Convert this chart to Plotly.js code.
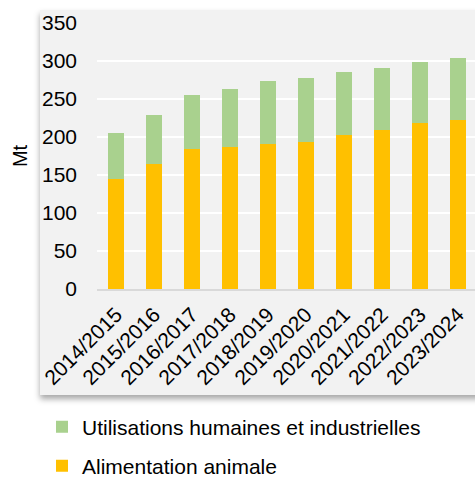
<!DOCTYPE html>
<html>
<head>
<meta charset="utf-8">
<script src="https://cdn.plot.ly/plotly-3.0.1.min.js"></script>
<style>
  html, body { margin: 0; padding: 0; background: #ffffff; overflow: hidden; }
  #wrap { position: relative; width: 475px; height: 477px; }
  #panel { position: absolute; left: 40px; top: 10px; width: 445px; height: 385px;
           background: #f2f2f2; box-shadow: 0 4px 6px rgba(0,0,0,0.35); }
  #chart { position: absolute; left: 0; top: 0; width: 475px; height: 477px; }
</style>
</head>
<body>
<div id="wrap">
  <div id="panel"></div>
  <div id="chart"></div>
</div>
<script>
const categories = ["2014/2015","2015/2016","2016/2017","2017/2018","2018/2019",
                    "2019/2020","2020/2021","2021/2022","2022/2023","2023/2024"];
const alimentationAnimale = [145, 165, 184, 187, 191, 193, 203, 209, 218, 223];
const utilisationsHumaines = [60, 64, 71, 76, 83, 85, 83, 82, 81, 81];
const yTicks = [0, 50, 100, 150, 200, 250, 300, 350];

const FONT = "Liberation Sans, Arial, sans-serif";

const traces = [
  {
    type: "bar", name: "Alimentation animale", x: categories, y: alimentationAnimale,
    marker: { color: "#ffc000" }, legend: "legend2", hoverinfo: "skip"
  },
  {
    type: "bar", name: "Utilisations humaines et industrielles", x: categories, y: utilisationsHumaines,
    marker: { color: "#a9d18e" }, legend: "legend", hoverinfo: "skip"
  }
];

const legendBase = {
  orientation: "h", xanchor: "left", yanchor: "middle",
  xref: "container", yref: "container",
  font: { family: FONT, size: 21, color: "#000000" },
  bgcolor: "rgba(0,0,0,0)"
};

const layout = {
  width: 475, height: 477,
  margin: { l: 97, r: 0, t: 23, b: 188 },
  paper_bgcolor: "rgba(0,0,0,0)",
  plot_bgcolor: "#f2f2f2",
  barmode: "stack",
  bargap: 0.6,
  font: { family: FONT, color: "#000000", size: 20 },
  showlegend: true,
  legend: Object.assign({}, legendBase, { x: 42 / 475, y: 1 - 427 / 477 }),
  legend2: Object.assign({}, legendBase, { x: 42 / 475, y: 1 - 466 / 477 }),
  xaxis: {
    type: "category", range: [-0.5, 9.45], automargin: false,
    tickangle: -45, tickfont: { size: 21 },
    tickmode: "array", tickvals: categories, ticktext: categories,
    showline: true, linecolor: "#d9d9d9", linewidth: 2,
    ticks: "", showgrid: false, ticklabelstandoff: 3, fixedrange: true
  },
  yaxis: {
    range: [0, 350], tickvals: yTicks, ticktext: yTicks.map(String), automargin: false,
    tickfont: { size: 21 },
    showgrid: true, gridcolor: "#ffffff", gridwidth: 2,
    zeroline: false, showline: false, ticks: "", ticklabelstandoff: 19,
    title: { text: "Mt", font: { size: 20 }, standoff: 8 },
    fixedrange: true
  }
};

Plotly.newPlot("chart", traces, layout, { displayModeBar: false, staticPlot: true });
</script>
</body>
</html>
